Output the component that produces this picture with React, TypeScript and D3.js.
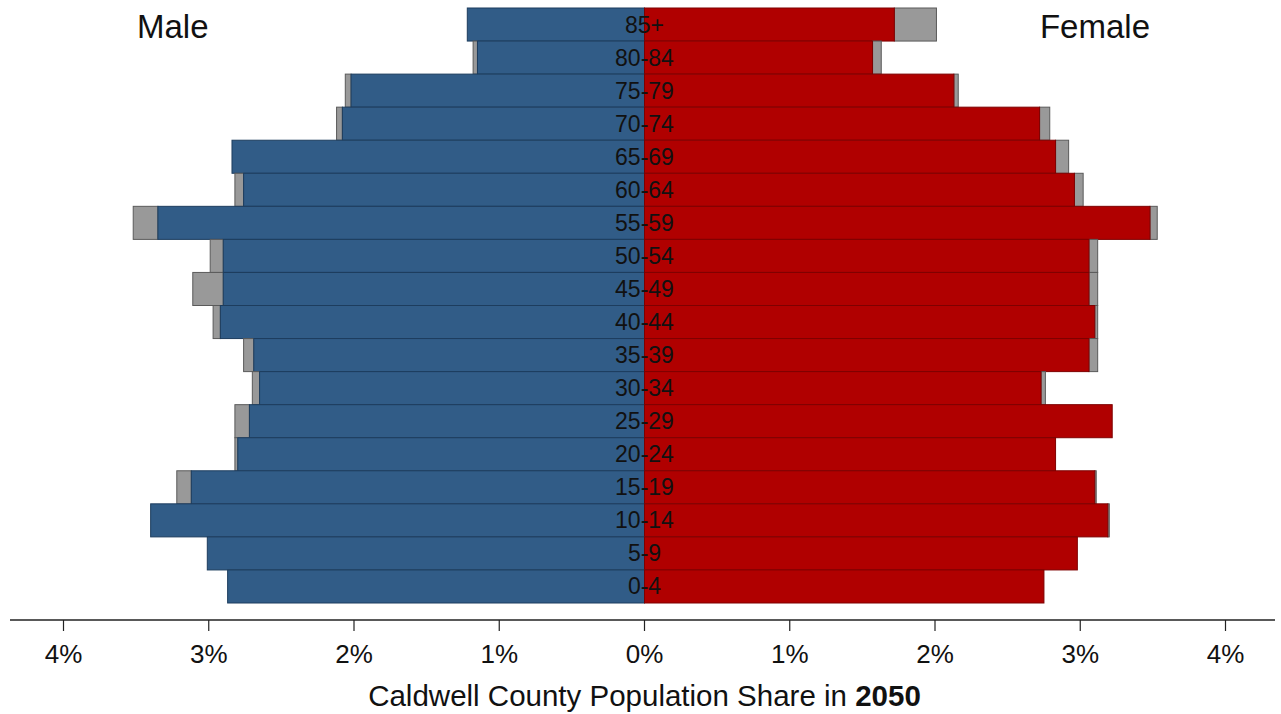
import React from "react";
import * as d3 from "d3";

const ages = ["85+","80-84","75-79","70-74","65-69","60-64","55-59","50-54","45-49","40-44","35-39","30-34","25-29","20-24","15-19","10-14","5-9","0-4"];
const maleMain = [1.22,1.15,2.02,2.08,2.84,2.76,3.35,2.90,2.90,2.92,2.69,2.65,2.72,2.80,3.12,3.40,3.01,2.87];
const maleTotal = [1.22,1.18,2.06,2.12,2.84,2.82,3.52,2.99,3.11,2.97,2.76,2.70,2.82,2.82,3.22,3.40,3.01,2.87];
const femaleMain = [1.72,1.57,2.13,2.72,2.83,2.96,3.48,3.06,3.06,3.10,3.06,2.73,3.22,2.83,3.10,3.19,2.98,2.75];
const femaleTotal = [2.01,1.63,2.16,2.79,2.92,3.02,3.53,3.12,3.12,3.12,3.12,2.76,3.22,2.83,3.11,3.20,2.98,2.75];
const ticks = [0, 1, 2, 3, 4];

const W = 1281, H = 714;
const FONT = "'Liberation Sans', Arial, sans-serif";

export default function App() {
  const xR = d3.scaleLinear().domain([0, 4]).range([644.5, 1225.5]);
  const xL = d3.scaleLinear().domain([0, 4]).range([644.5, 63.5]);
  const y = d3.scaleBand<string>().domain(ages).range([8, 603]).padding(0);
  const bh = y.bandwidth();
  const axisY = 620;

  return (
    <svg width={W} height={H} style={{ position: "absolute", left: 0, top: 0, background: "#fff" }} fontFamily={FONT}>
      {ages.map((a, i) => (
        <g key={a}>
          {maleTotal[i] > maleMain[i] && (
            <rect x={xL(maleTotal[i])} y={y(a)} width={xL(maleMain[i]) - xL(maleTotal[i])} height={bh}
              fill="#999999" stroke="#5a5a5a" strokeWidth={1} />
          )}
          <rect x={xL(maleMain[i])} y={y(a)} width={xL(0) - xL(maleMain[i])} height={bh}
            fill="#315c87" stroke="#1d3d5e" strokeWidth={1} />
          {femaleTotal[i] > femaleMain[i] && (
            <rect x={xR(femaleMain[i])} y={y(a)} width={xR(femaleTotal[i]) - xR(femaleMain[i])} height={bh}
              fill="#999999" stroke="#5a5a5a" strokeWidth={1} />
          )}
          <rect x={xR(0)} y={y(a)} width={xR(femaleMain[i]) - xR(0)} height={bh}
            fill="#b00000" stroke="#7e0000" strokeWidth={1} />
        </g>
      ))}
      {ages.map((a) => (
        <text key={"l" + a} x={xR(0)} y={(y(a) as number) + bh / 2 + 8} textAnchor="middle" fontSize={23} fill="#111">{a}</text>
      ))}
      <text x={137} y={38} fontSize={33} fill="#111">Male</text>
      <text x={1150} y={38} fontSize={33} fill="#111" textAnchor="end">Female</text>
      <line x1={10} x2={1275} y1={axisY} y2={axisY} stroke="#222" strokeWidth={1.5} />
      {ticks.map((t) => (
        <g key={"tr" + t}>
          <line x1={xR(t)} x2={xR(t)} y1={axisY} y2={axisY + 11} stroke="#222" strokeWidth={1.2} />
          <text x={xR(t)} y={663} textAnchor="middle" fontSize={26} fill="#111">{t + "%"}</text>
        </g>
      ))}
      {ticks.filter((t) => t > 0).map((t) => (
        <g key={"tl" + t}>
          <line x1={xL(t)} x2={xL(t)} y1={axisY} y2={axisY + 11} stroke="#222" strokeWidth={1.2} />
          <text x={xL(t)} y={663} textAnchor="middle" fontSize={26} fill="#111">{t + "%"}</text>
        </g>
      ))}
      <text x={644.5} y={706} textAnchor="middle" fontSize={29.5} fill="#111">
        Caldwell County Population Share in <tspan fontWeight="bold">2050</tspan>
      </text>
    </svg>
  );
}
